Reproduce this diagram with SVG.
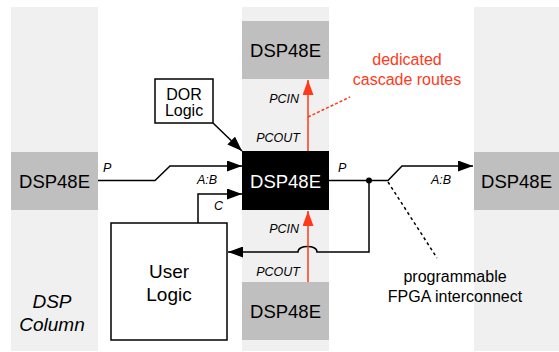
<svg xmlns="http://www.w3.org/2000/svg" width="559" height="352" viewBox="0 0 559 352">
<defs>
<style>
.col{fill:#f0f0f0}
.dsp{fill:#bfbfbf}
.lbl{font-family:"Liberation Sans",Arial,sans-serif;fill:#000}
.big{font-size:18.5px}
.it{font-style:italic;font-size:12.5px}
.box{fill:#fff;stroke:#000;stroke-width:1.5}
.ln{fill:none;stroke:#000;stroke-width:1.5}
.red{fill:none;stroke:#ff3a1a;stroke-width:1.5}
</style>
<marker id="ah" viewBox="0 0 15 11" refX="15" refY="5.5" markerWidth="15" markerHeight="11" markerUnits="userSpaceOnUse" orient="auto">
<path d="M0,0 L15,5.5 L0,11 Z" fill="#000"/>
</marker>
<marker id="ahr" viewBox="0 0 15 11" refX="15" refY="5.5" markerWidth="15" markerHeight="11" markerUnits="userSpaceOnUse" orient="auto">
<path d="M0,0 L15,5.5 L0,11 Z" fill="#ff3a1a"/>
</marker>
</defs>
<rect width="559" height="352" fill="#fff"/>
<g id="columns">
<rect class="col" x="11" y="7" width="87" height="344"/>
<rect class="col" x="242" y="7" width="87" height="344"/>
<rect class="col" x="474" y="7" width="85" height="344"/>
</g>
<g id="dsp-left">
<rect class="dsp" x="11" y="152" width="87" height="58"/>
<text class="lbl big" x="54.5" y="187.5" text-anchor="middle">DSP48E</text>
</g>
<g id="dsp-top">
<rect class="dsp" x="242" y="21" width="87" height="58"/>
<text class="lbl big" x="285.5" y="56.5" text-anchor="middle">DSP48E</text>
</g>
<g id="dsp-center">
<rect x="242" y="151" width="87" height="59" fill="#000"/>
<text class="lbl big" x="285.5" y="187.5" text-anchor="middle" fill="#fff" style="fill:#fff">DSP48E</text>
</g>
<g id="dsp-bottom">
<rect class="dsp" x="242" y="282" width="87" height="58"/>
<text class="lbl big" x="285.5" y="317.5" text-anchor="middle">DSP48E</text>
</g>
<g id="dsp-right">
<rect class="dsp" x="474" y="152" width="85" height="58"/>
<text class="lbl big" x="516.5" y="187.5" text-anchor="middle">DSP48E</text>
</g>
<g id="dor-logic">
<rect class="box" x="155" y="79" width="58" height="44"/>
<text class="lbl" x="184" y="99.5" text-anchor="middle" font-size="16">DOR</text>
<text class="lbl" x="184" y="115.5" text-anchor="middle" font-size="16">Logic</text>
</g>
<g id="user-logic">
<rect class="box" x="111" y="223" width="116" height="117"/>
<text class="lbl" x="169" y="278" text-anchor="middle" font-size="19">User</text>
<text class="lbl" x="169" y="301" text-anchor="middle" font-size="19">Logic</text>
</g>
<g id="column-label">
<text class="lbl" x="52" y="308" text-anchor="middle" font-size="19" font-style="italic">DSP</text>
<text class="lbl" x="52" y="331" text-anchor="middle" font-size="19" font-style="italic">Column</text>
</g>
<g id="connectors">
<path class="ln" d="M98,180.5 H155 L170,166 H242" marker-end="url(#ah)"/>
<path class="ln" d="M198,223 V194 H242" marker-end="url(#ah)"/>
<path class="ln" d="M213,123 L242,151" marker-end="url(#ah)"/>
<path class="ln" d="M329,180.5 H388 L402,166 H473" marker-end="url(#ah)"/>
<path class="ln" d="M369,180.5 V252 H317 C317,244.5 298,244.5 298,252 H228" marker-end="url(#ah)"/>
<circle cx="369" cy="180.5" r="3" fill="#000"/>
<path class="red" d="M308,151 V80" marker-end="url(#ahr)"/>
<path class="red" d="M308,282 V211" marker-end="url(#ahr)"/>
<path class="red" d="M308,117 L350,97" stroke-width="1" stroke-dasharray="3,2"/>
<path class="ln" d="M388,182 L437,258" stroke-width="1" stroke-dasharray="3,3"/>
</g>
<g id="labels">
<text class="lbl it" x="103" y="172">P</text>
<text class="lbl it" x="197" y="184">A:B</text>
<text class="lbl it" x="214" y="210">C</text>
<text class="lbl it" x="338" y="172">P</text>
<text class="lbl it" x="431" y="184">A:B</text>
<text class="lbl it" x="299" y="103" text-anchor="end">PCIN</text>
<text class="lbl it" x="300" y="142" text-anchor="end">PCOUT</text>
<text class="lbl it" x="299" y="233" text-anchor="end">PCIN</text>
<text class="lbl it" x="300" y="276" text-anchor="end">PCOUT</text>
<text class="lbl" x="407" y="65" text-anchor="middle" font-size="16" style="fill:#ff3a1a">dedicated</text>
<text class="lbl" x="407" y="85" text-anchor="middle" font-size="16" style="fill:#ff3a1a">cascade routes</text>
<text class="lbl" x="455" y="282" text-anchor="middle" font-size="16">programmable</text>
<text class="lbl" x="455" y="302" text-anchor="middle" font-size="16">FPGA interconnect</text>
</g>
</svg>
